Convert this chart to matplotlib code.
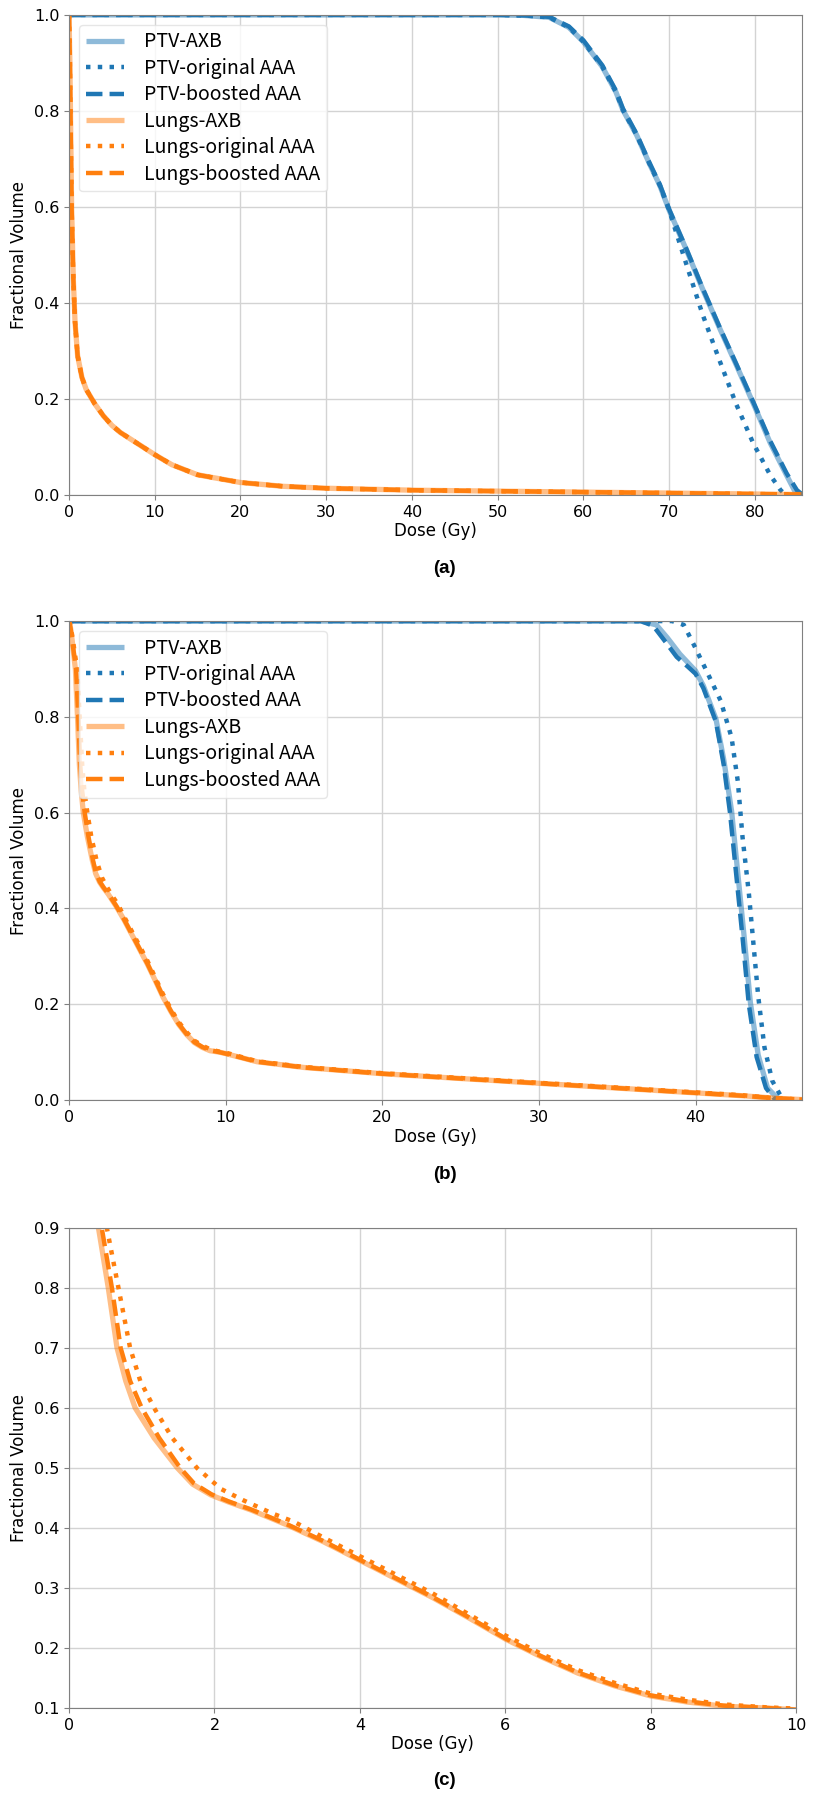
import numpy as np
import matplotlib
matplotlib.use("Agg")
import matplotlib.pyplot as plt

# ---- panel (a) ----
a_ptv_axb_dose = [0, 50, 53, 56, 58.3, 60, 62.2, 63.8, 64.6, 66.2, 67.7, 68.9, 70, 72, 73.9, 75.9, 77.8, 80, 81.8, 83.7, 84.6, 85.2]
a_ptv_axb_vol = [1, 1, 0.999, 0.995, 0.974, 0.944, 0.892, 0.839, 0.802, 0.75, 0.69, 0.645, 0.593, 0.511, 0.429, 0.347, 0.272, 0.183, 0.108, 0.041, 0.01, 0]
a_ptv_orig_dose = [0, 50, 53, 56, 58.3, 60, 62.2, 63.8, 64.6, 66.2, 67.7, 68.9, 70, 70.8, 72, 73.9, 75.9, 77.8, 79.8, 81.8, 83.0, 83.6]
a_ptv_orig_vol = [1, 1, 0.999, 0.995, 0.974, 0.944, 0.892, 0.839, 0.802, 0.75, 0.69, 0.645, 0.593, 0.548, 0.481, 0.376, 0.279, 0.19, 0.108, 0.041, 0.01, 0]
a_ptv_boost_dose = [0, 50, 53, 56, 58.3, 60, 62.2, 63.8, 64.6, 66.2, 67.7, 68.9, 70, 72, 73.9, 75.9, 77.8, 80, 81.8, 83.7, 84.9, 85.6]
a_ptv_boost_vol = [1, 1, 0.999, 0.996, 0.976, 0.947, 0.895, 0.842, 0.805, 0.752, 0.692, 0.647, 0.595, 0.513, 0.431, 0.349, 0.274, 0.186, 0.112, 0.045, 0.01, 0]
a_lung_dose = [0, 0.1, 0.2, 0.3, 0.5, 0.7, 1.0, 1.5, 2.0, 3.0, 4.0, 5.0, 6.0, 8.0, 10, 12, 15, 20, 25, 30, 40, 50, 60, 70, 80, 85.5]
a_lung_vol = [1.0, 0.9, 0.75, 0.6, 0.45, 0.36, 0.29, 0.245, 0.22, 0.19, 0.165, 0.145, 0.13, 0.107, 0.084, 0.063, 0.042, 0.026, 0.018, 0.014, 0.01, 0.008, 0.006, 0.004, 0.002, 0.001]

# ---- panel (b) / (c) ----
b_ptv_axb_dose = [0, 36.5, 37.5, 38.2, 39.0, 40.0, 40.5, 41.3, 41.8, 42.3, 42.7, 43.1, 43.5, 44.0, 44.6, 45.2, 45.6]
b_ptv_axb_vol = [1, 1, 0.992, 0.965, 0.931, 0.896, 0.865, 0.796, 0.711, 0.604, 0.473, 0.342, 0.204, 0.094, 0.025, 0.005, 0]
b_ptv_orig_dose = [0, 38.5, 39.25, 39.9, 40.7, 41.6, 42.3, 42.7, 43.0, 43.4, 43.7, 44.0, 44.4, 44.9, 45.5, 45.9]
b_ptv_orig_vol = [1, 1, 0.992, 0.95, 0.896, 0.834, 0.757, 0.665, 0.549, 0.433, 0.325, 0.217, 0.11, 0.04, 0.005, 0]
b_ptv_boost_dose = [0, 36.5, 37.3, 38.0, 38.8, 39.5, 40.0, 40.5, 41.3, 41.8, 42.2, 42.6, 43.0, 43.4, 43.9, 44.5, 45.0, 45.4]
b_ptv_boost_vol = [1, 1, 0.99, 0.96, 0.925, 0.905, 0.89, 0.86, 0.79, 0.70, 0.6, 0.47, 0.34, 0.2, 0.09, 0.025, 0.004, 0]

b_lung_axb_dose = [0, 0.1, 0.2, 0.3, 0.405, 0.54, 0.66, 0.78, 0.91, 1.17, 1.49, 1.7, 1.95, 2.2, 2.5, 3.0, 3.5, 4.0, 4.5, 5.0, 5.5, 6.0, 6.5, 7.0, 7.5, 8.0, 8.5, 9.0, 9.6, 10, 12, 15, 20, 25, 30, 35, 40, 43, 45, 46.8]
b_lung_axb_vol = [1.0, 0.985, 0.96, 0.93, 0.9, 0.8, 0.7, 0.645, 0.6, 0.55, 0.5, 0.473, 0.455, 0.443, 0.43, 0.405, 0.377, 0.346, 0.315, 0.284, 0.25, 0.215, 0.185, 0.158, 0.137, 0.12, 0.11, 0.103, 0.1, 0.097, 0.08, 0.068, 0.055, 0.045, 0.035, 0.025, 0.015, 0.009, 0.004, 0.001]
b_lung_boost_dose = [0, 0.1, 0.2, 0.32, 0.45, 0.59, 0.71, 0.84, 1.0, 1.24, 1.53, 1.72, 1.96, 2.2, 2.5, 3.0, 3.5, 4.0, 4.5, 5.0, 5.5, 6.0, 6.5, 7.0, 7.5, 8.0, 8.5, 9.0, 9.6, 10, 12, 15, 20, 25, 30, 35, 40, 43, 45, 46.8]
b_lung_boost_vol = [1.0, 0.985, 0.96, 0.93, 0.9, 0.8, 0.7, 0.645, 0.6, 0.55, 0.5, 0.474, 0.456, 0.444, 0.431, 0.406, 0.378, 0.347, 0.316, 0.285, 0.251, 0.216, 0.186, 0.159, 0.138, 0.121, 0.111, 0.104, 0.1, 0.097, 0.08, 0.068, 0.055, 0.045, 0.035, 0.025, 0.015, 0.009, 0.004, 0.001]
b_lung_orig_dose = [0, 0.1, 0.25, 0.38, 0.52, 0.68, 0.84, 0.98, 1.17, 1.42, 1.76, 2.09, 2.4, 2.8, 3.1, 3.5, 4.0, 4.5, 5.0, 5.5, 6.0, 6.5, 7.0, 7.5, 8.0, 8.5, 9.0, 9.6, 10, 12, 15, 20, 25, 30, 35, 40, 43, 45, 46.8]
b_lung_orig_vol = [1.0, 0.99, 0.96, 0.93, 0.9, 0.8, 0.7, 0.645, 0.6, 0.55, 0.5, 0.465, 0.446, 0.424, 0.41, 0.384, 0.353, 0.322, 0.291, 0.256, 0.221, 0.19, 0.163, 0.142, 0.124, 0.114, 0.106, 0.101, 0.099, 0.081, 0.069, 0.056, 0.046, 0.036, 0.026, 0.016, 0.01, 0.004, 0.001]

labels = ['PTV-AXB', 'PTV-original AAA', 'PTV-boosted AAA',
          'Lungs-AXB', 'Lungs-original AAA', 'Lungs-boosted AAA']
blue = '#1f77b4'
orange = '#ff7f0e'

plt.rcParams['font.family'] = 'DejaVu Sans'
fig = plt.figure(figsize=(8.16, 17.96), dpi=100)

ax_a = fig.add_axes([0.0846, 0.7244, 0.8983, 0.2673])
ax_b = fig.add_axes([0.0846, 0.3875, 0.8983, 0.2667])
ax_c = fig.add_axes([0.0846, 0.0490, 0.8910, 0.2673])


def draw_set(ax, axb, orig, boost, color):
    ax.plot(axb[0], axb[1], color=color, lw=3.8, alpha=0.5, solid_capstyle='butt')
    ax.plot(orig[0], orig[1], color=color, lw=3.2, ls=':')
    ax.plot(boost[0], boost[1], color=color, lw=3.2, ls='--')


def style(ax, xlim, ylim, xticks, yticks):
    ax.set_xlim(*xlim)
    ax.set_ylim(*ylim)
    ax.set_xticks(xticks)
    ax.set_yticks(yticks)
    ax.grid(True, color='#d3d3d3', lw=1)
    ax.set_axisbelow(True)
    for s in ax.spines.values():
        s.set_color('#808080')
    ax.tick_params(colors='#808080', labelcolor='black', labelsize=11.5, length=3.5)
    ax.set_xlabel('Dose (Gy)', fontsize=12, labelpad=2)
    ax.set_ylabel('Fractional Volume', fontsize=12, labelpad=4)


def add_legend(ax):
    leg = ax.legend(labels, loc='upper left', prop={'family': 'Noto Sans CJK TC', 'size': 14},
                    labelspacing=0.28, handlelength=2.0, handletextpad=1.0,
                    borderaxespad=0.5, borderpad=0.35, fancybox=True, framealpha=0.8)
    leg.get_frame().set_edgecolor('#e0e0e0')


# (a)
draw_set(ax_a, (a_ptv_axb_dose, a_ptv_axb_vol), (a_ptv_orig_dose, a_ptv_orig_vol),
         (a_ptv_boost_dose, a_ptv_boost_vol), blue)
draw_set(ax_a, (a_lung_dose, a_lung_vol), (a_lung_dose, a_lung_vol), (a_lung_dose, a_lung_vol), orange)
style(ax_a, (0, 85.5), (0, 1.0), np.arange(0, 81, 10), np.arange(0, 1.01, 0.2))
add_legend(ax_a)

# (b)
draw_set(ax_b, (b_ptv_axb_dose, b_ptv_axb_vol), (b_ptv_orig_dose, b_ptv_orig_vol),
         (b_ptv_boost_dose, b_ptv_boost_vol), blue)
draw_set(ax_b, (b_lung_axb_dose, b_lung_axb_vol), (b_lung_orig_dose, b_lung_orig_vol),
         (b_lung_boost_dose, b_lung_boost_vol), orange)
style(ax_b, (0, 46.8), (0, 1.0), np.arange(0, 41, 10), np.arange(0, 1.01, 0.2))
add_legend(ax_b)

# (c) zoom of lungs in (b)
draw_set(ax_c, (b_lung_axb_dose, b_lung_axb_vol), (b_lung_orig_dose, b_lung_orig_vol),
         (b_lung_boost_dose, b_lung_boost_vol), orange)
style(ax_c, (0, 10), (0.1, 0.9), np.arange(0, 11, 2), np.round(np.arange(0.1, 0.91, 0.1), 1))

for y, t in [(0.6837, '(a)'), (0.3463, '(b)'), (0.0085, '(c)')]:
    fig.text(0.545, y, t, ha='center', va='center', fontsize=13.5, fontweight='bold',
             family='Liberation Sans')

fig.savefig('out.png', dpi=100)
